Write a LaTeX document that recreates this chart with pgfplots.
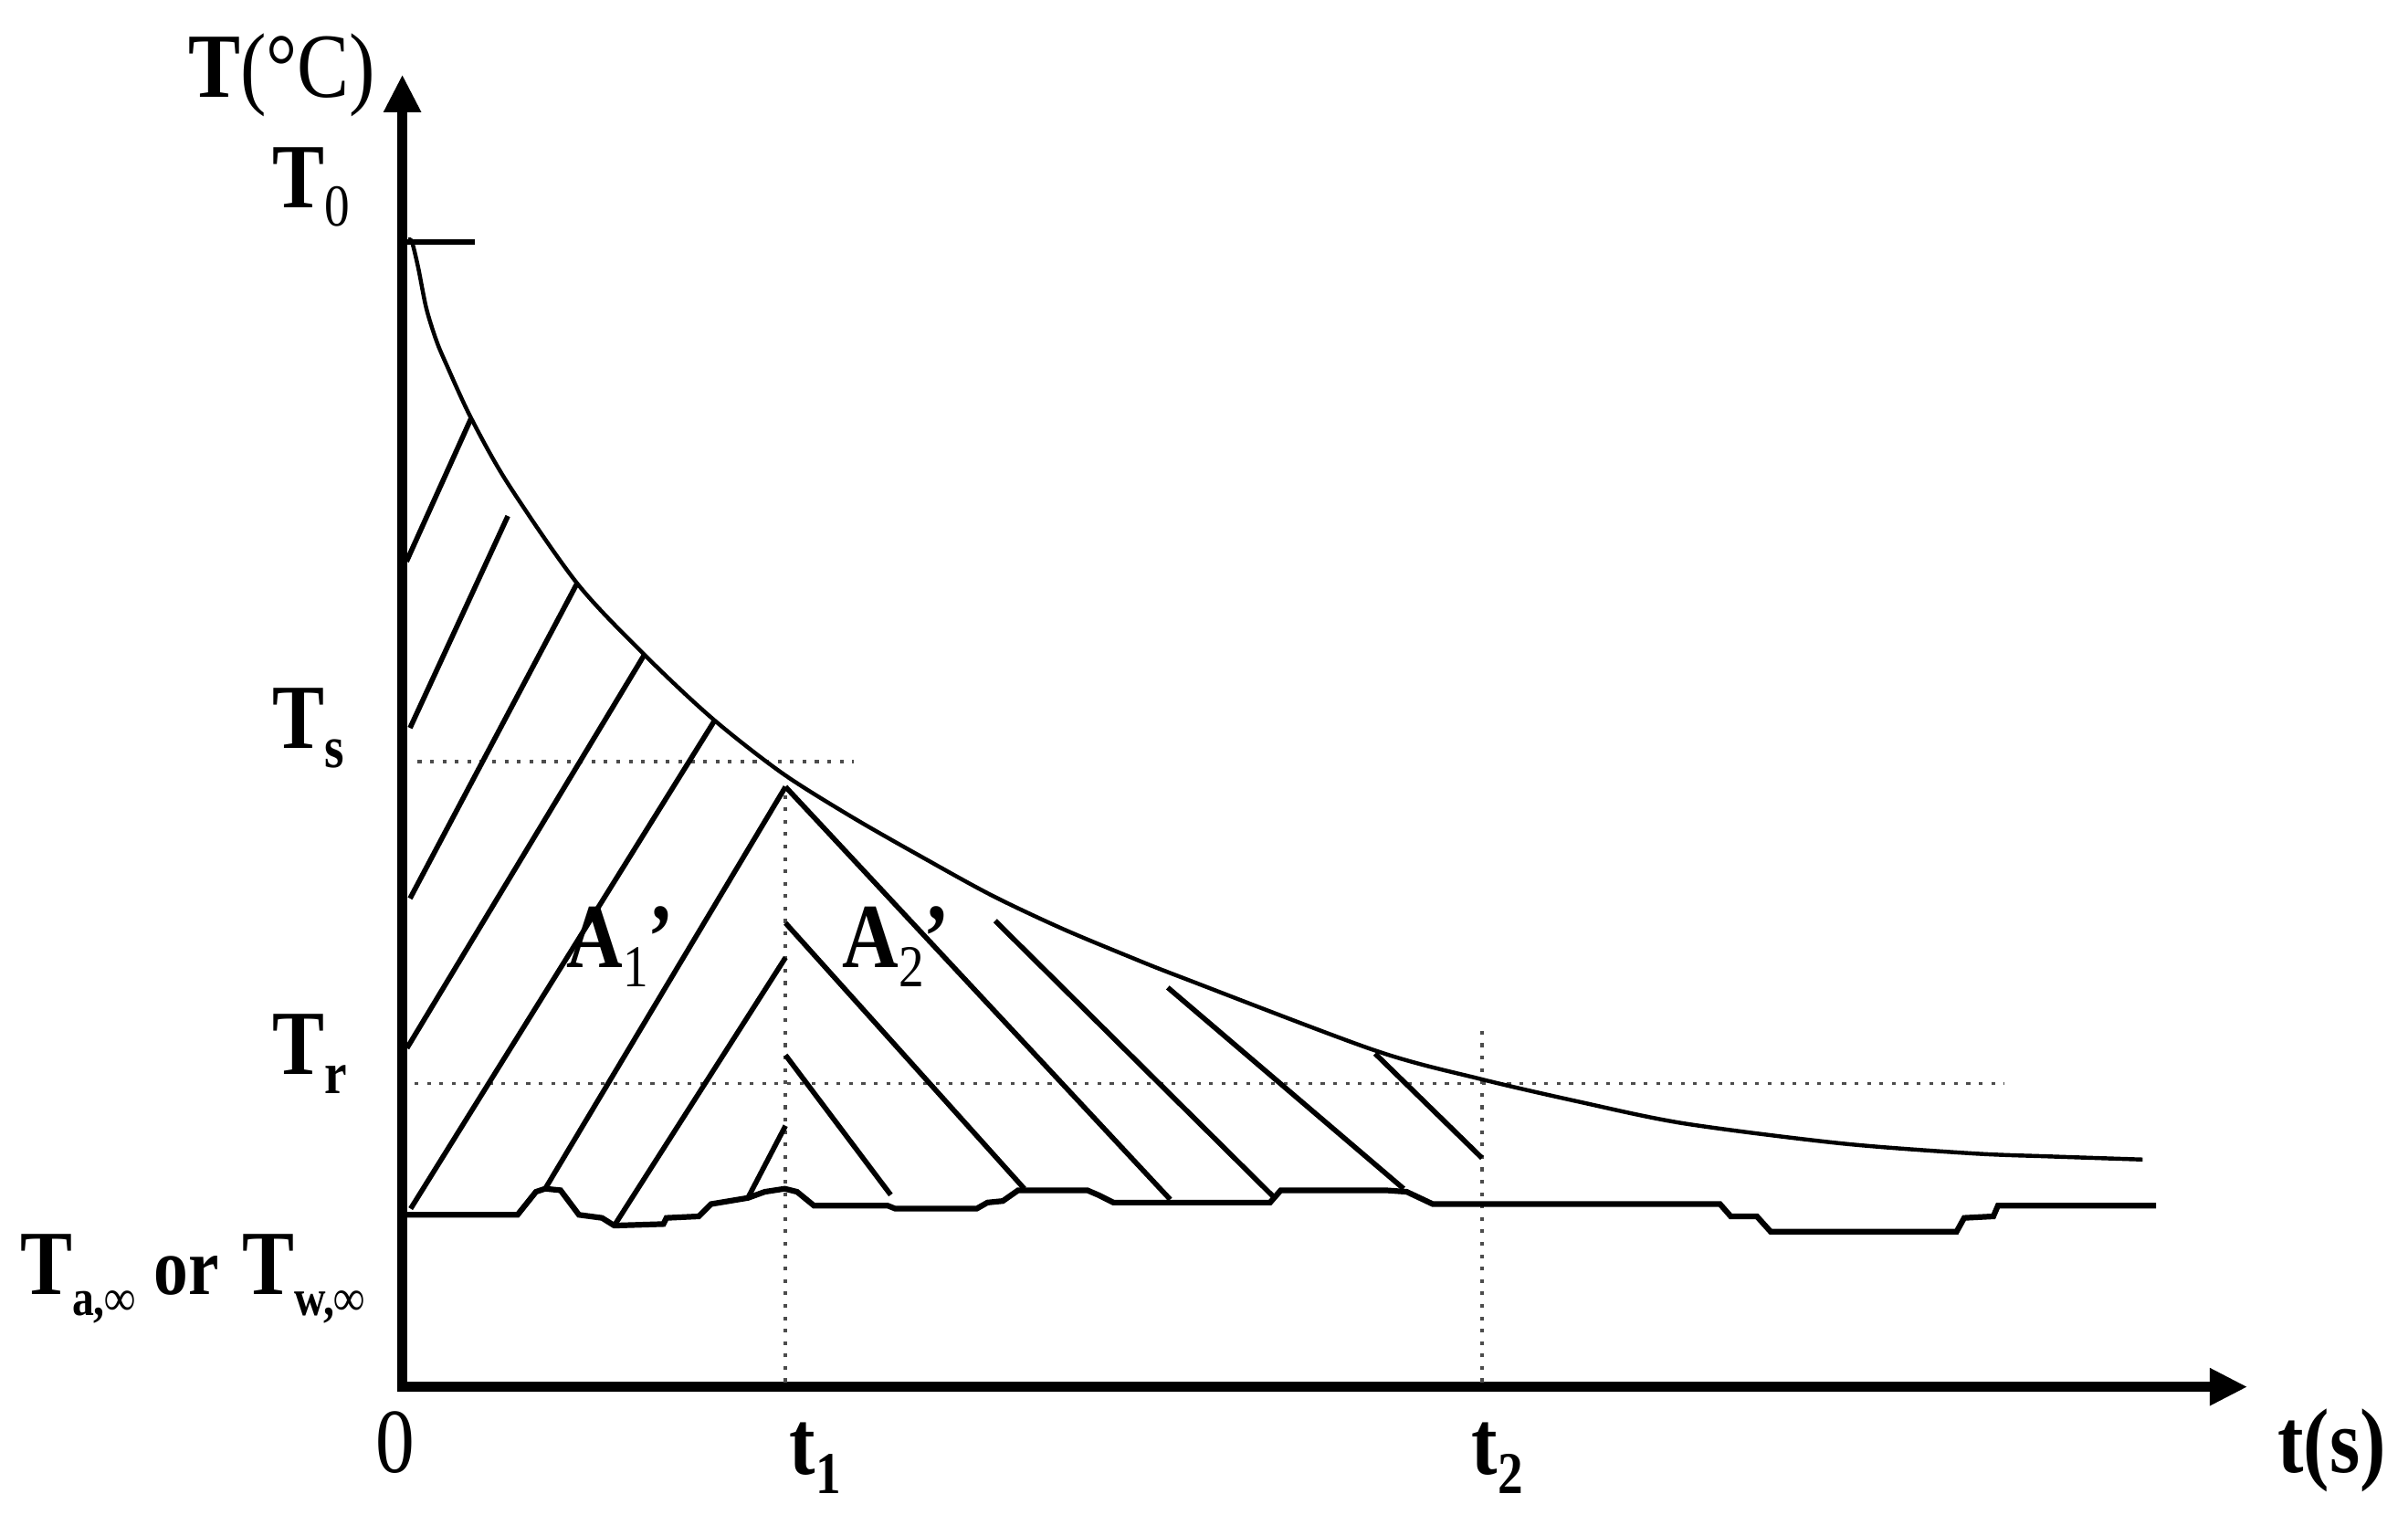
\documentclass[border=0pt]{standalone}
\usepackage{pgfplots}
\pgfplotsset{compat=1.18}
\usepackage{fontspec}
\setmainfont{Liberation Serif}[FakeStretch=0.85]
\usetikzlibrary{arrows.meta}

\newcommand{\lbl}{\fontsize{17}{20}\selectfont\bfseries}
\newcommand{\sub}[1]{\raisebox{-0.45ex}{\fontsize{11}{11}\selectfont #1}}
\newcommand{\ssub}[1]{\raisebox{-0.5ex}{\fontsize{9.5}{10}\selectfont #1}}

\begin{document}
\begin{tikzpicture}
\begin{axis}[
  scale only axis,
  width=12.015cm, height=8.545cm,
  xmin=-1, xmax=1200.5, ymin=-3, ymax=851.5,
  axis lines=left,
  axis line style={line width=1.85pt, line cap=rect, -{Triangle[length=7pt,width=6.5pt]}},
  xtick=\empty, ytick=\empty,
  clip=false,
]
% frame of the whole figure
\path (axis cs:-263,-100) rectangle (axis cs:1305,900);

% dotted guide lines
\addplot[black!70, line width=0.6pt, dash pattern=on 0.7pt off 1.6pt] coordinates {(9,404) (293,404)};
\addplot[black!70, line width=0.6pt, dash pattern=on 0.7pt off 1.6pt] coordinates {(7,194.5) (1042,194.5)};
\addplot[black!70, line width=0.6pt, dash pattern=on 0.7pt off 1.6pt] coordinates {(248.5,0) (248.5,385)};
\addplot[black!70, line width=0.6pt, dash pattern=on 0.7pt off 1.6pt] coordinates {(702,0) (702,232)};

% T0 mark
\addplot[black, line width=0.9pt] coordinates {(0,742.4) (46,742.4)};

% cooling curve
\addplot[black, line width=0.75pt, smooth, tension=0.5] coordinates {
  (3,744) (5.3,742.3) (9.3,725.9) (14.6,699.3) (21.2,678.1) (27.9,662.2)
  (43.8,627.7) (67.7,585.2) (112.8,520.2) (156.6,473.7) (200.7,432.3)
  (246.3,396.6) (291.8,368) (337.3,342) (382.8,317) (428.3,295.5)
  (473.8,276.5) (508,263) (632.4,216) (700.8,197.5) (765.3,182.6)
  (833.6,168.5) (936,155.5) (1021.3,149) (1072.5,147) (1132.2,145)
};

% ambient (air or water) temperature
\addplot[black, line width=1.05pt] coordinates {
  (2,109) (74,109) (86,124) (92,126) (102,125) (114,109) (129,107) (137,102)
  (169,103) (171,107) (192,108) (200,116) (224,120) (235,124) (248,126)
  (256,124) (267,115) (315,115) (320,113) (373,113) (380,117) (390,118)
  (400,125) (445,125) (452,122) (462,117) (564,117) (571,125) (639,125)
  (653,124) (670,116) (857,116) (864,108) (881,108) (890,98) (1011,98)
  (1016,107) (1035,108) (1038,115) (1141,115)
};

% hatching of A1'
\addplot[black, line width=0.95pt] coordinates {(1.7,534.4) (43.8,627.7)};
\addplot[black, line width=0.95pt] coordinates {(4,426) (67.7,564)};
\addplot[black, line width=0.95pt] coordinates {(4,315) (112.8,520.2)};
\addplot[black, line width=0.95pt] coordinates {(2,217.5) (156.6,473.7)};
\addplot[black, line width=0.95pt] coordinates {(4.4,113) (201.8,430)};
\addplot[black, line width=0.95pt] coordinates {(92,126) (248.5,387.7)};
\addplot[black, line width=0.95pt] coordinates {(137,102) (248.5,276.5)};
\addplot[black, line width=0.95pt] coordinates {(224,120) (248.5,167)};

% hatching of A2'
\addplot[black, line width=0.95pt] coordinates {(248.5,387.7) (499,119)};
\addplot[black, line width=0.95pt] coordinates {(248.5,299) (404,126)};
\addplot[black, line width=0.95pt] coordinates {(248.5,213) (317,122)};
\addplot[black, line width=0.95pt] coordinates {(385,300.5) (566,121)};
\addplot[black, line width=0.95pt] coordinates {(497.4,257) (651,126)};
\addplot[black, line width=0.95pt] coordinates {(632.4,214) (702,146)};

% labels
\node[anchor=base] at (axis cs:-79.5,836.6) {\lbl T\mdseries(°C)};
\node[anchor=base] at (axis cs:-60.5,765) {\lbl T\sub{\mdseries 0}};
\node[anchor=base] at (axis cs:-62,412.5) {\lbl T\sub{s}};
\node[anchor=base] at (axis cs:-61,200.4) {\lbl T\sub{r}};
\node[anchor=base] at (axis cs:-137.5,57) {\lbl T\ssub{a,∞}\hspace{0.2em}{\fontsize{15}{18}\selectfont or}\hspace{0.25em}T\ssub{w,∞}};
\node[anchor=base] at (axis cs:-5.6,-59) {\fontsize{17}{20}\selectfont 0};
\node[anchor=base] at (axis cs:268,-60) {\lbl t\sub{1}};
\node[anchor=base] at (axis cs:712,-60) {\lbl t\sub{2}};
\node[anchor=base] at (axis cs:1255.5,-59) {\lbl t(s)};
\node[anchor=base] at (axis cs:141,270) {\lbl A\sub{\mdseries 1}’};
\node[anchor=base] at (axis cs:320.5,270) {\lbl A\sub{\mdseries 2}’};
\end{axis}
\end{tikzpicture}
\end{document}
